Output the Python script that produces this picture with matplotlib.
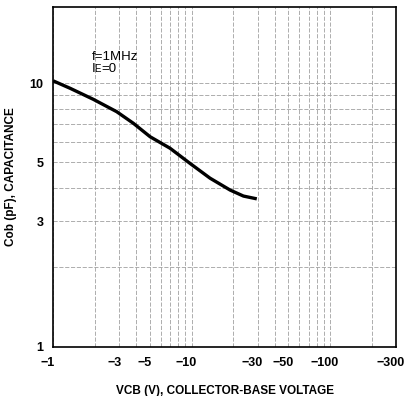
import matplotlib
matplotlib.use("Agg")
import matplotlib.pyplot as plt
import matplotlib.transforms as mtransforms
from matplotlib.ticker import FixedLocator, NullFormatter

plt.rcParams['font.family'] = ['Liberation Sans', 'DejaVu Sans']

vcb = [1.0, 1.33, 1.95, 2.88, 3.80, 5.02, 7.00, 9.75, 13.6, 19.0, 23.7, 29.6]
cob = [10.2, 9.55, 8.68, 7.79, 7.04, 6.26, 5.66, 4.96, 4.36, 3.93, 3.73, 3.64]

xticks = [1, 3, 5, 10, 30, 50, 100, 300]
xlabels = ['\u22121', '\u22123', '\u22125', '\u221210', '\u221230', '\u221250', '\u2212100', '\u2212300']
yticks = [1, 3, 5, 10]
ylabels = ['1', '3', '5', '10']

fig = plt.figure(figsize=(4.05, 3.96), dpi=100)
ax = fig.add_axes([0.131, 0.124, 0.847, 0.858])
ax.set_xscale('log')
ax.set_yscale('log')
ax.set_xlim(1, 300)
ax.set_ylim(1, 19.4)

ax.plot(vcb, cob, color='black', lw=2.4, solid_capstyle='butt', solid_joinstyle='round')

ax.xaxis.set_major_locator(FixedLocator(xticks))
ax.set_xticklabels(xlabels)
ax.yaxis.set_major_locator(FixedLocator(yticks))
ax.set_yticklabels(ylabels)
xminor = [2, 4, 6, 7, 8, 9, 20, 40, 60, 70, 80, 90, 200]
yminor = [2, 4, 6, 7, 8, 9]
ax.xaxis.set_minor_locator(FixedLocator(xminor))
ax.yaxis.set_minor_locator(FixedLocator(yminor))
ax.xaxis.set_minor_formatter(NullFormatter())
ax.yaxis.set_minor_formatter(NullFormatter())
ax.tick_params(which='both', length=0, labelsize=9, pad=7)
shift = mtransforms.ScaledTranslation(-5 / 100, 0, fig.dpi_scale_trans)
for lab in ax.get_xticklabels():
    lab.set_transform(lab.get_transform() + shift)
for lab in ax.get_xticklabels() + ax.get_yticklabels():
    lab.set_fontweight('bold')

ax.grid(True, which='both', color='#a0a0a0', lw=0.6, linestyle=(0, (5, 2)))
for s in ax.spines.values():
    s.set_linewidth(1.2)

ax.text(1.91, 12.2, 'f=1MHz', fontsize=9.5)
ax.text(1.91, 11.0, 'I', fontsize=9.5)
ax.text(1.99, 11.0, 'E', fontsize=7)
ax.text(2.22, 11.0, '=0', fontsize=9.5)

ax.set_xlabel('VCB (V), COLLECTOR-BASE VOLTAGE', fontsize=8.5, fontweight='bold', labelpad=12)
ax.set_ylabel('Cob (pF), CAPACITANCE', fontsize=8.5, fontweight='bold', labelpad=9)

fig.savefig('out.png', dpi=100)
